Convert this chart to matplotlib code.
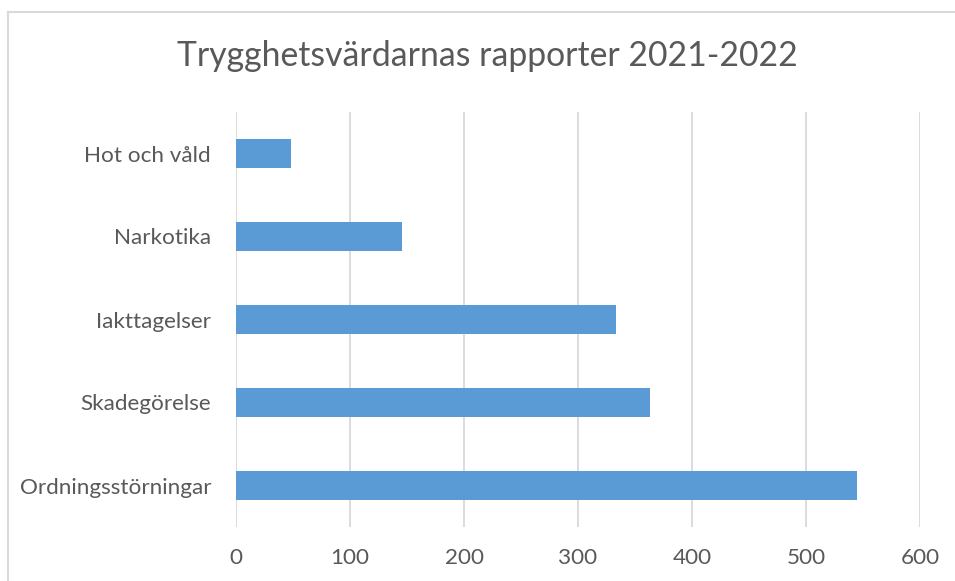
import matplotlib
matplotlib.use("Agg")
import matplotlib.pyplot as plt
from matplotlib.lines import Line2D

categories = ["Ordningsstörningar", "Skadegörelse", "Iakttagelser", "Narkotika", "Hot och våld"]
values = [545, 363, 333, 146, 48]
xticks = [0, 100, 200, 300, 400, 500, 600]
title = "Trygghetsvärdarnas rapporter 2021-2022"

plt.rcParams['font.family'] = ['Lato', 'DejaVu Sans']

W, H = 955, 581
fig = plt.figure(figsize=(W / 100, H / 100), dpi=100)
fig.patch.set_facecolor("white")

# figure border (left and top visible)
fig.add_artist(Line2D([8 / W, 8 / W], [0, 1 - 12 / H], transform=fig.transFigure,
                      color="#D9D9D9", lw=1.5))
fig.add_artist(Line2D([8 / W, 1], [1 - 12 / H, 1 - 12 / H], transform=fig.transFigure,
                      color="#D9D9D9", lw=1.5))

left, right, top, bottom = 236, 920, 112, 527
ax = fig.add_axes([left / W, 1 - bottom / H, (right - left) / W, (bottom - top) / H])

y = list(range(len(categories)))
ax.barh(y, values, height=0.355, color="#5B9BD5", zorder=3)
ax.set_yticks(y)
ax.set_yticklabels(categories)
ax.set_ylim(-0.5, len(categories) - 0.5)
ax.set_xlim(0, 600)
ax.set_xticks(xticks)
ax.set_xticklabels([str(t) for t in xticks])

ax.grid(axis="x", color="#D9D9D9", lw=1.3, zorder=0)
ax.grid(axis="y", visible=False)
for s in ax.spines.values():
    s.set_visible(False)
ax.tick_params(axis="both", length=0, labelsize=16.2, colors="#595959")
ax.tick_params(axis="y", pad=18)
ax.tick_params(axis="x", pad=15)

fig.text(487.5 / W, 1 - 56 / H, title, ha="center", va="center", fontsize=24.3, color="#595959")

fig.savefig("out.png", dpi=100, facecolor="white")
